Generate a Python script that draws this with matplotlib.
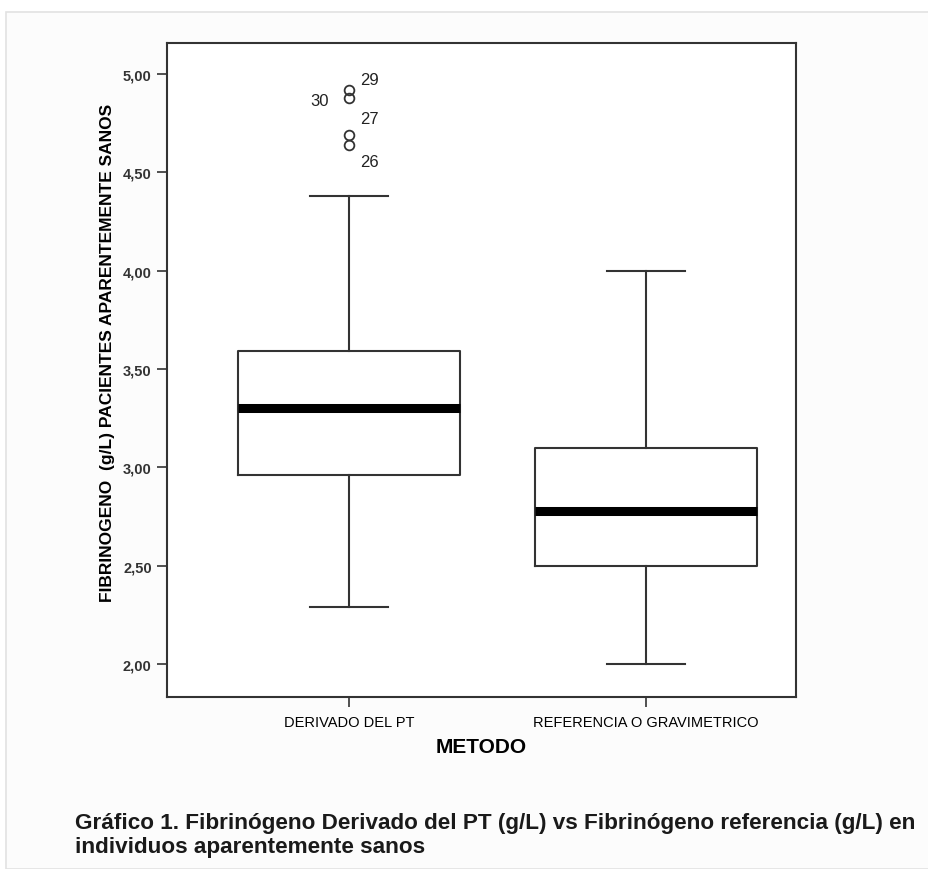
import matplotlib.pyplot as plt
from matplotlib.patches import Rectangle
from matplotlib.ticker import FuncFormatter

# valores
metodos = ['DERIVADO DEL PT', 'REFERENCIA O GRAVIMETRICO']
whisker_low = [2.29, 2.00]
q1 = [2.96, 2.50]
medianas = [3.30, 2.78]
q3 = [3.59, 3.10]
whisker_high = [4.38, 4.00]

outlier_ids = ['29', '30', '27', '26']
outlier_vals = [4.92, 4.88, 4.69, 4.64]

plt.rcParams['font.family'] = ['Liberation Sans', 'DejaVu Sans']

fig = plt.figure(figsize=(9.29, 8.7), dpi=100)
fig.patch.set_facecolor('white')
fig.add_artist(Rectangle((6 / 929, 0), 1, 1 - 13 / 870, transform=fig.transFigure,
                         facecolor='#fcfcfc', edgecolor='#e2e2e2', lw=1.2, zorder=-5))

ax = fig.add_axes([167 / 929, 1 - 698 / 870, 629 / 929, 654 / 870])
ax.set_facecolor('white')

stats = []
for i in range(len(metodos)):
    stats.append({'whislo': whisker_low[i], 'q1': q1[i], 'med': medianas[i],
                  'q3': q3[i], 'whishi': whisker_high[i], 'fliers': []})

pos = [1, 2]
ax.bxp(stats, positions=pos, widths=0.745, showfliers=False,
       boxprops=dict(color='#333333', lw=1.5),
       whiskerprops=dict(color='#333333', lw=1.5),
       capprops=dict(color='#333333', lw=1.5),
       medianprops=dict(color='black', lw=6.5, solid_capstyle='butt'),
       capwidths=0.26)

ax.plot([1] * len(outlier_vals), outlier_vals, 'o', mfc='none', mec='#333333',
        ms=7, mew=1.3)
offsets = {'29': (8, 4), '30': (-28, -5), '27': (8, 9), '26': (8, -15)}
for lab, v in zip(outlier_ids, outlier_vals):
    ax.annotate(lab, (1, v), xytext=offsets[lab], textcoords='offset points',
                fontsize=12, color='#222222')

ax.set_xlim(0.387, 2.505)
ax.set_ylim(1.832, 5.158)
ax.set_yticks([2.0, 2.5, 3.0, 3.5, 4.0, 4.5, 5.0])
ax.yaxis.set_major_formatter(FuncFormatter(lambda v, p: f'{v:.2f}'.replace('.', ',')))
ax.set_xticks(pos)
ax.set_xticklabels(metodos, fontsize=10.5)
for t in ax.get_yticklabels():
    t.set_fontsize(10.5)
    t.set_fontweight('bold')
    t.set_color('#333333')
ax.tick_params(axis='both', length=7, width=1.2, color='#333333', pad=4)
ax.tick_params(axis='x', pad=6)

for s in ax.spines.values():
    s.set_linewidth(1.5)
    s.set_color('#333333')

ax.set_xlabel('METODO', fontsize=15, fontweight='bold', labelpad=6)
ax.set_ylabel('FIBRINOGENO  (g/L) PACIENTES APARENTEMENTE SANOS', fontsize=12.5,
              fontweight='bold')
ax.yaxis.set_label_coords(-0.083, 0.527)

fig.text(75 / 929, 1 - 853 / 870,
         'Gráfico 1. Fibrinógeno Derivado del PT (g/L) vs Fibrinógeno referencia (g/L) en\n'
         'individuos aparentemente sanos',
         fontsize=16.2, fontweight='bold', color='#1a1a1a', linespacing=1.2,
         va='baseline')

fig.savefig('out.png', dpi=100)
